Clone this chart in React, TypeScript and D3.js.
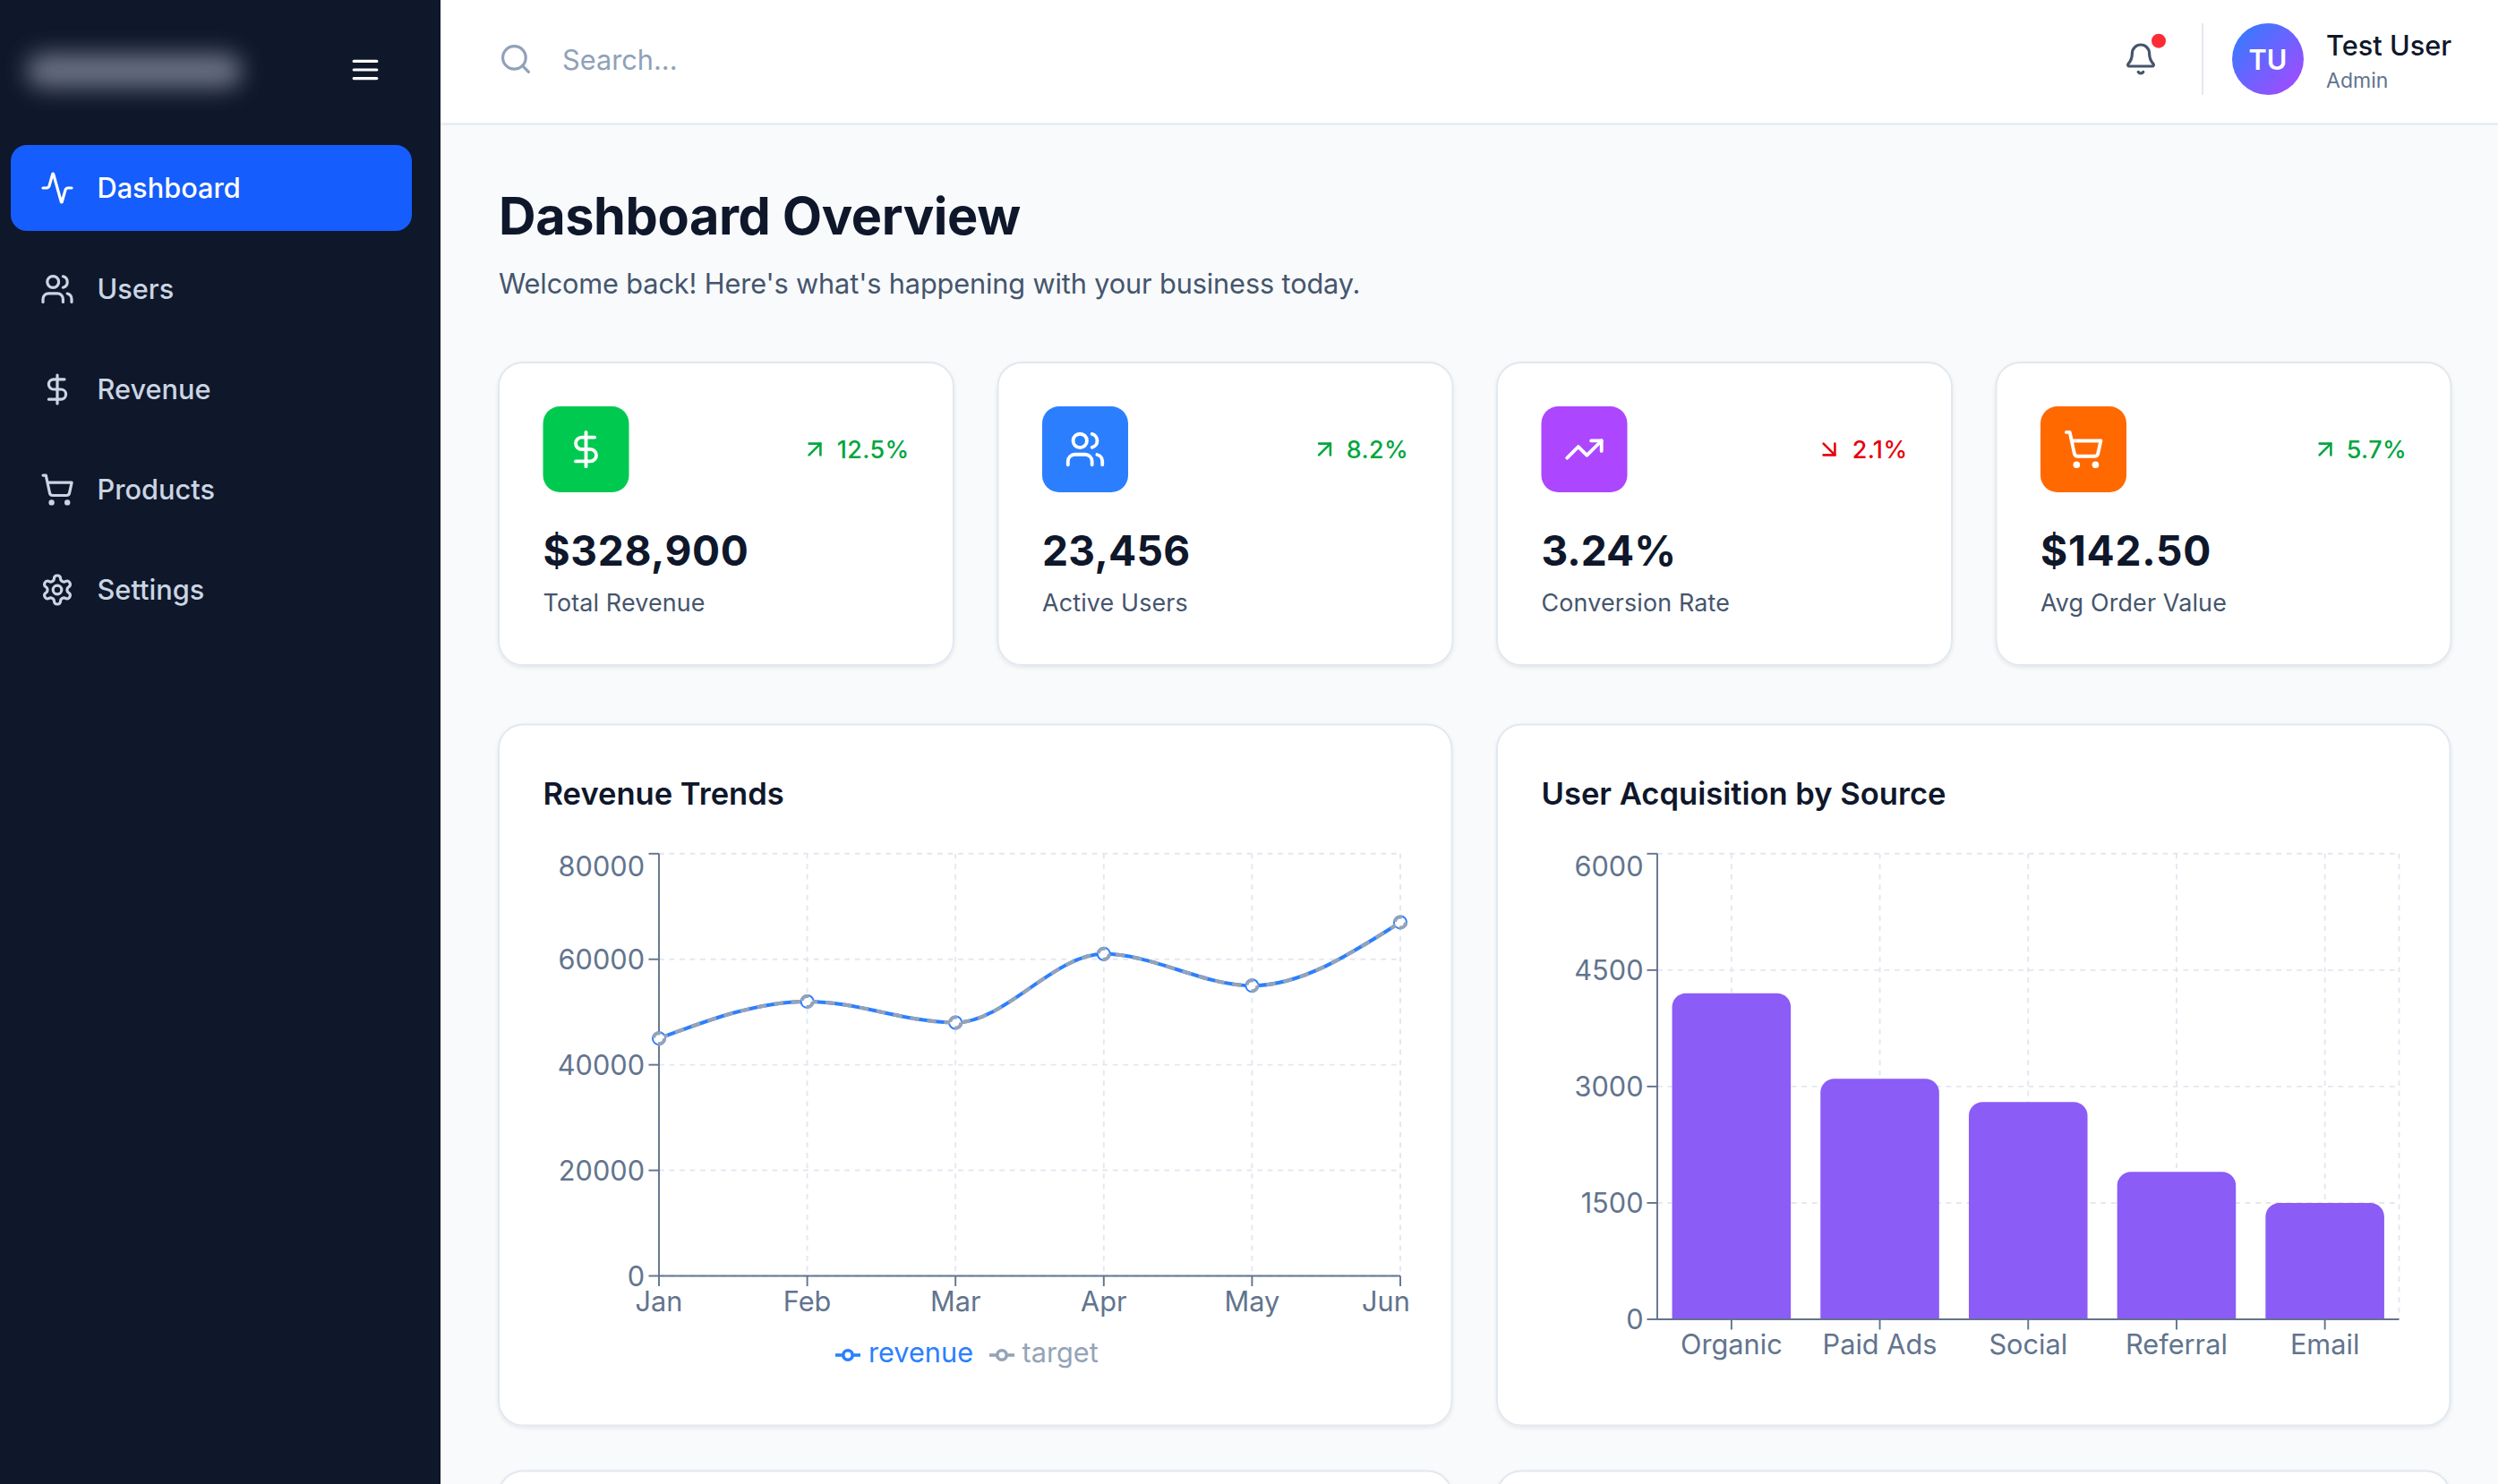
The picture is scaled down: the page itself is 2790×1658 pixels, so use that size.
import React from "react";
import * as d3 from "d3";

// ---- data ----
const months = ["Jan", "Feb", "Mar", "Apr", "May", "Jun"];
const revenue = [45000, 52000, 48000, 61000, 55000, 67000];
const target = [45000, 52000, 48000, 61000, 55000, 67000];
const revenueTicks = [0, 20000, 40000, 60000, 80000];
const sources = ["Organic", "Paid Ads", "Social", "Referral", "Email"];
const sourceUsers = [4200, 3100, 2800, 1900, 1500];
const sourceTicks = [0, 1500, 3000, 4500, 6000];
const navLabels = ["Dashboard", "Users", "Revenue", "Products", "Settings"];
const kpiValues = ["$328,900", "23,456", "3.24%", "$142.50"];
const kpiLabels = ["Total Revenue", "Active Users", "Conversion Rate", "Avg Order Value"];
const kpiChanges = ["12.5%", "8.2%", "2.1%", "5.7%"];
const kpiUp = [true, true, false, true];
const kpiColors = ["#00c950", "#2b7fff", "#ad46ff", "#ff6900"];

// ---- layout ----
const S = 1.92;
const FONT = "Inter, sans-serif";
const INK = "#0f172b";
const SLATE = "#45556c";
const AXIS = "#62748e";
const GRID = "#e2e8f0";
const BLUE = "#2b7fff";
const GRAY = "#94a3b8";
const PURPLE = "#8b5cf6";
const cardXs = [557, 1114.5, 1672, 2229.5];
const cardW = 508;
const arrowXs = [910, 1479.5, 2043, 2597];
const navYs = [210, 323, 435, 547, 659];
const kpiValueSpacing = [0.65, 0.3, 0, 0.76];
const REG = 430;
const MED = 540;

type P = React.ReactNode;
const I = ({ cx, cy, s, color, w = 2, children }: { cx: number; cy: number; s: number; color: string; w?: number; children: P }) => (
  <g transform={`translate(${cx - 12 * s},${cy - 12 * s}) scale(${s})`} fill="none" stroke={color} strokeWidth={w} strokeLinecap="round" strokeLinejoin="round">
    {children}
  </g>
);
const activity = <path d="M22 12h-2.48a2 2 0 0 0-1.93 1.46l-2.35 8.36a.25.25 0 0 1-.48 0L9.24 2.18a.25.25 0 0 0-.48 0l-2.35 8.36A2 2 0 0 1 4.49 12H2" />;
const users = (
  <>
    <path d="M16 21v-2a4 4 0 0 0-4-4H6a4 4 0 0 0-4 4v2" />
    <circle cx={9} cy={7} r={4} />
    <path d="M22 21v-2a4 4 0 0 0-3-3.87" />
    <path d="M16 3.13a4 4 0 0 1 0 7.75" />
  </>
);
const dollar = (
  <>
    <line x1={12} y1={2} x2={12} y2={22} />
    <path d="M17 5H9.5a3.5 3.5 0 0 0 0 7h5a3.5 3.5 0 0 1 0 7H6" />
  </>
);
const cart = (
  <>
    <circle cx={8} cy={21} r={1} />
    <circle cx={19} cy={21} r={1} />
    <path d="M2.05 2.05h2l2.66 12.42a2 2 0 0 0 2 1.58h9.78a2 2 0 0 0 1.95-1.57l1.65-7.43H5.12" />
  </>
);
const settings = (
  <>
    <path d="M12.22 2h-.44a2 2 0 0 0-2 2v.18a2 2 0 0 1-1 1.73l-.43.25a2 2 0 0 1-2 0l-.15-.08a2 2 0 0 0-2.73.73l-.22.38a2 2 0 0 0 .73 2.73l.15.1a2 2 0 0 1 1 1.72v.51a2 2 0 0 1-1 1.74l-.15.09a2 2 0 0 0-.73 2.73l.22.38a2 2 0 0 0 2.73.73l.15-.08a2 2 0 0 1 2 0l.43.25a2 2 0 0 1 1 1.73V20a2 2 0 0 0 2 2h.44a2 2 0 0 0 2-2v-.18a2 2 0 0 1 1-1.73l.43-.25a2 2 0 0 1 2 0l.15.08a2 2 0 0 0 2.73-.73l.22-.39a2 2 0 0 0-.73-2.73l-.15-.08a2 2 0 0 1-1-1.74v-.5a2 2 0 0 1 1-1.74l.15-.09a2 2 0 0 0 .73-2.73l-.22-.38a2 2 0 0 0-2.73-.73l-.15.08a2 2 0 0 1-2 0l-.43-.25a2 2 0 0 1-1-1.73V4a2 2 0 0 0-2-2z" />
    <circle cx={12} cy={12} r={3} />
  </>
);
const trending = (
  <>
    <polyline points="22 7 13.5 15.5 8.5 10.5 2 17" />
    <polyline points="16 7 22 7 22 13" />
  </>
);
const search = (
  <>
    <circle cx={11} cy={11} r={8} />
    <path d="m21 21-4.34-4.34" />
  </>
);
const bell = (
  <>
    <path d="M10.268 21a2 2 0 0 0 3.464 0" />
    <path d="M3.262 15.326A1 1 0 0 0 4 17h16a1 1 0 0 0 .74-1.673C19.41 13.956 18 12.499 18 8A6 6 0 0 0 6 8c0 4.499-1.411 5.956-2.738 7.326" />
  </>
);
const menu = (
  <>
    <line x1={4} y1={6} x2={20} y2={6} />
    <line x1={4} y1={12} x2={20} y2={12} />
    <line x1={4} y1={18} x2={20} y2={18} />
  </>
);
const upRight = (
  <>
    <path d="M7 7h10v10" />
    <path d="M7 17 17 7" />
  </>
);
const downRight = (
  <>
    <path d="m7 7 10 10" />
    <path d="M17 7v10H7" />
  </>
);
const navIcons = [activity, users, dollar, cart, settings];
const kpiIcons = [dollar, users, trending, cart];

const T = ({ x, y, size, weight = REG, color, anchor = "start", spacing = 0, children }: { x: number; y: number; size: number; weight?: number; color: string; anchor?: string; spacing?: number; children: P }) => (
  <text x={x} y={y} fontSize={size} fontWeight={weight} fill={color} textAnchor={anchor as any} fontFamily={FONT} letterSpacing={spacing}>
    {children}
  </text>
);

const Card = ({ x, y, w, h }: { x: number; y: number; w: number; h: number }) => (
  <rect x={x} y={y} width={w} height={h} rx={27} fill="#fff" stroke={GRID} strokeWidth={2} filter="url(#cardShadow)" />
);

const TICK = 11.5;
const AXW = 1.92;
const DASH = "5.76 5.76";

function LineChart() {
  const x = d3.scalePoint<string>().domain(months).range([736, 1564]);
  const y = d3.scaleLinear().domain([0, 80000]).range([1425.5, 953.8]);
  const line = d3.line<number>().x((_, i) => x(months[i])!).y((v) => y(v)).curve(d3.curveMonotoneX);
  const [l, r] = x.range();
  const [b, t] = y.range();
  const series = [
    { name: "revenue", values: revenue, color: BLUE, dash: undefined as string | undefined, iconX: 947, textX: 970 },
    { name: "target", values: target, color: GRAY, dash: "10.4 8.8" as string | undefined, iconX: 1119, textX: 1141.5 },
  ];
  return (
    <g>
      {revenueTicks.map((v) => (
        <line key={v} x1={l} x2={r} y1={y(v)} y2={y(v)} stroke={GRID} strokeWidth={AXW} strokeDasharray={DASH} />
      ))}
      {months.map((m) => (
        <line key={m} x1={x(m)} x2={x(m)} y1={t} y2={b} stroke={GRID} strokeWidth={AXW} strokeDasharray={DASH} />
      ))}
      <line x1={l} x2={l} y1={t} y2={b} stroke={AXIS} strokeWidth={AXW} />
      <line x1={l} x2={r} y1={b} y2={b} stroke={AXIS} strokeWidth={AXW} />
      {revenueTicks.map((v) => (
        <g key={v}>
          <line x1={l - TICK} x2={l} y1={y(v)} y2={y(v)} stroke={AXIS} strokeWidth={AXW} />
          <T x={l - 16} y={Math.max(y(v) + 11, t + 25)} size={30.7} color={AXIS} anchor="end">{v}</T>
        </g>
      ))}
      {months.map((m, i) => (
        <g key={m}>
          <line x1={x(m)} x2={x(m)} y1={b} y2={b + TICK} stroke={AXIS} strokeWidth={AXW} />
          <T x={x(m)! - (i === months.length - 1 ? 16 : 0)} y={b + 39.5} size={30.7} color={AXIS} anchor="middle">{m}</T>
        </g>
      ))}
      {series.map((s) => (
        <g key={s.name}>
          <path d={line(s.values)!} fill="none" stroke={s.color} strokeWidth={4} strokeDasharray={s.dash} />
          {s.values.map((v, i) => (
            <circle key={i} cx={x(months[i])} cy={y(v)} r={6} fill="#fff" stroke={s.color} strokeWidth={4} strokeDasharray={s.dash} />
          ))}
        </g>
      ))}
      {series.map((s) => (
        <g key={s.name}>
          <line x1={s.iconX - 14} x2={s.iconX + 14} y1={1514} y2={1514} stroke={s.color} strokeWidth={3.6} />
          <circle cx={s.iconX} cy={1514} r={5.2} fill="#fff" stroke={s.color} strokeWidth={3.6} />
          <T x={s.textX} y={1521.7} size={30.7} color={s.color}>{s.name}</T>
        </g>
      ))}
    </g>
  );
}

function BarChart() {
  const x = d3.scaleBand<string>().domain(sources).range([1851, 2679.5]).paddingInner(0.2).paddingOuter(0.1);
  const y = d3.scaleLinear().domain([0, 6000]).range([1474, 953.8]);
  const [l, r] = x.range();
  const [b, t] = y.range();
  const bw = x.bandwidth();
  const rad = 15.4;
  const bar = (s: string, v: number) => {
    const x0 = x(s)!;
    const p = d3.path();
    p.moveTo(x0, b);
    p.lineTo(x0, y(v) + rad);
    p.arcTo(x0, y(v), x0 + rad, y(v), rad);
    p.lineTo(x0 + bw - rad, y(v));
    p.arcTo(x0 + bw, y(v), x0 + bw, y(v) + rad, rad);
    p.lineTo(x0 + bw, b);
    p.closePath();
    return p.toString();
  };
  const cx = (s: string) => x(s)! + bw / 2;
  return (
    <g>
      {sourceTicks.map((v) => (
        <line key={v} x1={l} x2={r} y1={y(v)} y2={y(v)} stroke={GRID} strokeWidth={AXW} strokeDasharray={DASH} />
      ))}
      {[...sources.map(cx), r].map((gx, i) => (
        <line key={i} x1={gx} x2={gx} y1={t} y2={b} stroke={GRID} strokeWidth={AXW} strokeDasharray={DASH} />
      ))}
      {sources.map((s, i) => (
        <path key={s} d={bar(s, sourceUsers[i])} fill={PURPLE} />
      ))}
      <line x1={l} x2={l} y1={t} y2={b} stroke={AXIS} strokeWidth={AXW} />
      <line x1={l} x2={r} y1={b} y2={b} stroke={AXIS} strokeWidth={AXW} />
      {sourceTicks.map((v) => (
        <g key={v}>
          <line x1={l - TICK} x2={l} y1={y(v)} y2={y(v)} stroke={AXIS} strokeWidth={AXW} />
          <T x={l - 15.5} y={Math.max(y(v) + 11, t + 25)} size={30.7} color={AXIS} anchor="end">{v}</T>
        </g>
      ))}
      {sources.map((s) => (
        <g key={s}>
          <line x1={cx(s)} x2={cx(s)} y1={b} y2={b + TICK} stroke={AXIS} strokeWidth={AXW} />
          <T x={cx(s)} y={b + 38.5} size={30.7} color={AXIS} anchor="middle">{s}</T>
        </g>
      ))}
    </g>
  );
}

export default function App() {
  return (
    <svg width={2790} height={1658} viewBox="0 0 2790 1658" style={{ position: "absolute", left: 0, top: 0, display: "block" }}>
      <defs>
        <filter id="cardShadow" x="-5%" y="-5%" width="110%" height="110%">
          <feDropShadow dx={0} dy={2} stdDeviation={2} floodColor="#000" floodOpacity={0.08} />
        </filter>
        <filter id="logoBlur" x="-30%" y="-150%" width="160%" height="400%">
          <feGaussianBlur stdDeviation={13} />
        </filter>
        <linearGradient id="avatarGrad" x1="0" y1="0" x2="1" y2="1">
          <stop offset="0" stopColor="#2b7fff" />
          <stop offset="1" stopColor="#ad46ff" />
        </linearGradient>
      </defs>

      <rect width={2790} height={1658} fill="#f8fafc" />

      {/* sidebar */}
      <rect width={492} height={1658} fill="#0f172b" />
      <rect x={30} y={60} width={240} height={38} rx={18} fill="#697183" filter="url(#logoBlur)" />
      <I cx={408} cy={78} s={1.6} color="#fff">{menu}</I>
      <rect x={12} y={162} width={448} height={96} rx={18} fill="#155dfc" />
      {navLabels.map((n, i) => (
        <g key={n}>
          <I cx={64} cy={navYs[i]} s={1.6} color={i === 0 ? "#fff" : "#cad5e2"}>{navIcons[i]}</I>
          <T x={108.5} y={navYs[i] + 11} size={S * 16} weight={MED} color={i === 0 ? "#fff" : "#cad5e2"}>{n}</T>
        </g>
      ))}

      {/* header */}
      <rect x={492} width={2298} height={138} fill="#fff" />
      <rect x={492} y={137.5} width={2298} height={2} fill={GRID} />
      <I cx={576} cy={66} s={1.6} color="#90a1b9">{search}</I>
      <T x={628} y={78} size={S * 16} color="#90a1b9">Search...</T>
      <I cx={2391} cy={66} s={1.6} color={SLATE}>{bell}</I>
      <circle cx={2411} cy={45.7} r={8} fill="#fb2c36" />
      <rect x={2459} y={26} width={2} height={80} fill={GRID} />
      <circle cx={2533} cy={66} r={40} fill="url(#avatarGrad)" />
      <T x={2533} y={78} size={S * 16} weight={600} color="#fff" anchor="middle">TU</T>
      <T x={2598} y={61.7} size={S * 16} weight={MED} color={INK}>Test User</T>
      <T x={2598} y={98} size={S * 12} color={AXIS}>Admin</T>

      {/* heading */}
      <T x={557} y={262} size={S * 30} weight={700} color={INK} spacing={-0.4}>Dashboard Overview</T>
      <T x={557} y={328} size={S * 16} color={SLATE} spacing={-0.14}>Welcome back! Here's what's happening with your business today.</T>

      {/* KPI cards */}
      {kpiValues.map((v, i) => {
        const cx = cardXs[i];
        const tx = cx + 49.5;
        const col = kpiUp[i] ? "#00a63e" : "#e7000b";
        return (
          <g key={v}>
            <Card x={cx} y={405} w={cardW} h={338} />
            <rect x={tx} y={454} width={96} height={96} rx={19} fill={kpiColors[i]} />
            <I cx={tx + 48} cy={502} s={S} color="#fff">{kpiIcons[i]}</I>
            <I cx={arrowXs[i]} cy={502} s={1.28} color={col}>{kpiUp[i] ? upRight : downRight}</I>
            <T x={cx + cardW - 49.5} y={511.7} size={S * 14} weight={MED} color={col} anchor="end" spacing={0.4}>{kpiChanges[i]}</T>
            <T x={tx} y={631.7} size={S * 24} weight={700} color={INK} spacing={kpiValueSpacing[i]}>{v}</T>
            <T x={tx} y={683} size={S * 14} color={SLATE} spacing={0.15}>{kpiLabels[i]}</T>
          </g>
        );
      })}

      {/* chart cards */}
      <Card x={557} y={809.5} w={1064.5} h={783} />
      <T x={606.5} y={898.5} size={S * 18} weight={600} color={INK}>Revenue Trends</T>
      <LineChart />
      <Card x={1672} y={809.5} w={1064.5} h={783} />
      <T x={1721.5} y={898.5} size={S * 18} weight={600} color={INK}>User Acquisition by Source</T>
      <BarChart />

      {/* next row */}
      <Card x={557} y={1643.5} w={1064.5} h={100} />
      <Card x={1672} y={1643.5} w={1064.5} h={100} />
    </svg>
  );
}
